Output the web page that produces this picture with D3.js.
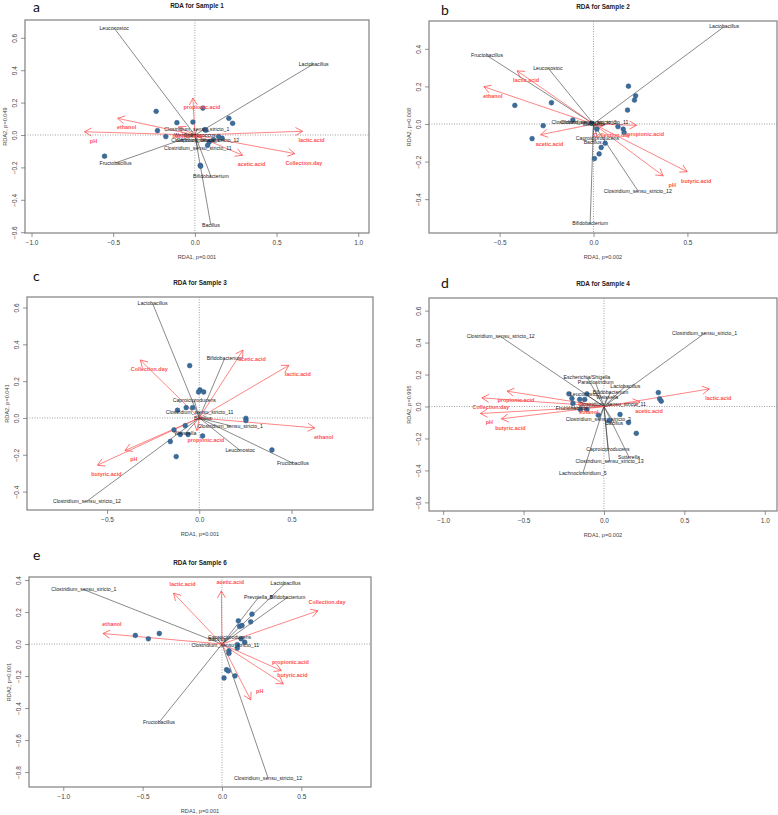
<html>
<head>
  <script src="https://d3js.org/d3.v7.min.js"></script>
  <style>
    body { margin: 0; background: #fff; }
    svg { font-family: "Liberation Sans", Arial, sans-serif; }
  </style>
</head>
<body>
<div id="fig"></div>
<script>
  // ---- data (RDA1, RDA2 scores) ----
  var titles = ["RDA for Sample 1", "RDA for Sample 2", "RDA for Sample 3", "RDA for Sample 4", "RDA for Sample 6"];
  var letters = ["a", "b", "c", "d", "e"];
  var xTitles = ["RDA1, p=0.001", "RDA1, p=0.002", "RDA1, p=0.001", "RDA1, p=0.002", "RDA1, p=0.001"];
  var yTitles = ["RDA2, p=0.049", "RDA2, p=0.068", "RDA2, p=0.041", "RDA2, p=0.995", "RDA2, p=0.001"];

  var xTicks = [[-1, -0.5, 0, 0.5, 1], [-0.5, 0, 0.5], [-0.5, 0, 0.5], [-1, -0.5, 0, 0.5, 1], [-1, -0.5, 0, 0.5]];
  var yTicks = [[-0.6, -0.4, -0.2, 0, 0.2, 0.4, 0.6], [-0.4, -0.2, 0, 0.2, 0.4], [-0.4, -0.2, 0, 0.2, 0.4, 0.6],
                [-0.6, -0.4, -0.2, 0, 0.2, 0.4, 0.6], [-0.8, -0.6, -0.4, -0.2, 0, 0.2, 0.4]];

  // sample scores
  var sites1 = [[-0.237, 0.146], [0.049, 0.166], [-0.012, 0.08], [-0.11, 0.076], [0.208, 0.103], [0.231, 0.072],
                [-0.229, 0.027], [-0.178, -0.01], [0.061, 0.033], [0.068, 0.03], [0.145, -0.01], [0.167, -0.02],
                [0.114, -0.029], [0.078, -0.064], [0.088, -0.043], [0.033, -0.187], [0.035, -0.193], [-0.553, -0.131]];
  var sites2 = [[0.186, 0.201], [0.224, 0.15], [0.218, 0.127], [0.181, 0.074], [-0.224, 0.113], [-0.419, 0.099],
                [-0.11, 0.021], [-0.268, -0.009], [-0.327, -0.078], [0.018, -0.027], [0.158, -0.027], [0.13, -0.014],
                [0.163, -0.046], [0.062, -0.102], [0.041, -0.125], [0.03, -0.159], [0.005, -0.184], [-0.01, 0.004]];
  var sites3 = [[-0.052, 0.284], [0.004, 0.152], [-0.004, 0.141], [0.024, 0.141], [-0.071, 0.056], [-0.036, 0.056],
                [-0.118, 0.042], [0.253, -0.002], [0.253, -0.014], [0.394, -0.174], [-0.076, -0.042], [-0.137, -0.065],
                [-0.103, -0.09], [-0.061, -0.09], [0.018, -0.098], [-0.157, -0.128], [-0.125, -0.21]];
  var sites4 = [[0.338, 0.087], [0.346, 0.048], [0.356, 0.033], [0.201, -0.168], [0.153, -0.1], [0.1, -0.05],
                [0.035, -0.087], [-0.035, -0.054], [-0.106, 0.079], [-0.218, 0.079], [-0.199, 0.05], [-0.151, 0.044],
                [-0.12, 0.044], [-0.193, 0.019], [-0.147, -0.019], [-0.106, -0.019]];
  var sites6 = [[-0.546, 0.054], [-0.464, 0.033], [-0.395, 0.066], [0.189, 0.187], [0.181, 0.139], [0.103, 0.145],
                [0.111, 0.11], [0.126, 0.116], [0.12, 0.033], [0.143, 0.012], [0.097, -0.004], [0.097, -0.025],
                [0.044, -0.042], [0.044, -0.058], [0.029, -0.16], [0.04, -0.168], [0.082, -0.199], [0.013, -0.212]];

  // genus scores (black lines)
  var species1 = [["Leuconostoc", -0.494, 0.66], ["Lactobacillus", 0.727, 0.439], ["Fructobacillus", -0.486, -0.172],
                  ["Bifidobacterium", 0.098, -0.254], ["Bacillus", 0.098, -0.558],
                  ["Clostridium_sensu_stricto_1", 0.012, 0.033], ["Clostridium_sensu_stricto_12", 0.063, -0.035],
                  ["Clostridium_sensu_stricto_11", 0.018, -0.082], ["Caproiciproducens", 0.02, -0.03],
                  ["Weissella", -0.06, 0.0], ["Enterococcus", 0.03, 0.0]];
  var species2 = [["Lactobacillus", 0.696, 0.518], ["Fructobacillus", -0.567, 0.364], ["Leuconostoc", -0.243, 0.299],
                  ["Clostridium_sensu_stricto_12", 0.236, -0.355], ["Bifidobacterium", -0.018, -0.53],
                  ["Caproiciproducens", 0.021, -0.076], ["Bacillus", -0.005, -0.099],
                  ["Clostridium_sensu_stricto_1", -0.05, 0.007], ["Clostridium_sensu_stricto_11", 0.005, 0.007],
                  ["Weissella", 0.0, 0.0]];
  var species3 = [["Lactobacillus", -0.253, 0.622], ["Bifidobacterium", 0.137, 0.322], ["Caproiciproducens", -0.027, 0.094],
                  ["Clostridium_sensu_stricto_11", 0.002, 0.033], ["Clostridium_sensu_stricto_1", 0.168, -0.042],
                  ["Leuconostoc", 0.222, -0.177], ["Fructobacillus", 0.508, -0.246],
                  ["Clostridium_sensu_stricto_12", -0.609, -0.452], ["Weissella", -0.076, -0.085], ["Bacillus", 0.02, 0.0]];
  var species4 = [["Clostridium_sensu_stricto_12", -0.642, 0.437], ["Clostridium_sensu_stricto_1", 0.626, 0.458],
                  ["Escherichia/Shigella", -0.106, 0.183], ["Paraclostridium", -0.052, 0.15], ["Lactobacillus", 0.133, 0.127],
                  ["Bifidobacterium", 0.041, 0.092], ["Leuconostoc", -0.12, 0.079], ["Clostridium_sensu_stricto_3", -0.035, -0.081],
                  ["Bacillus", 0.064, -0.102], ["Caproiciproducens", 0.025, -0.266], ["Sutterella", 0.155, -0.316],
                  ["Clostridium_sensu_stricto_13", 0.035, -0.343], ["Lachnoclostridium_5", -0.131, -0.416],
                  ["Fructobacillus", -0.2, -0.01], ["Weissella", 0.02, 0.06], ["Clostridium_sensu_stricto_11", 0.05, 0.015]];
  var species6 = [["Clostridium_sensu_stricto_1", -0.87, 0.34], ["Lactobacillus", 0.401, 0.382], ["Prevotella_9", 0.23, 0.291],
                  ["Bifidobacterium", 0.412, 0.291], ["Fructobacillus", -0.397, -0.49], ["Clostridium_sensu_stricto_12", 0.29, -0.835],
                  ["Caproiciproducens", 0.048, 0.042], ["Clostridium_sensu_stricto_11", 0.021, -0.004], ["Bacillus", -0.03, 0.03]];

  // environmental vectors (red arrows)
  var env1 = [["propionic.acid", -0.012, 0.228], ["ethanol", -0.473, 0.103], ["pH", -0.676, 0.02], ["lactic.acid", 0.659, 0.023],
              ["Collection.day", 0.612, -0.115], ["acetic.acid", 0.292, -0.125], ["butyric.acid", -0.1, 0.05]];
  var env2 = [["lactic.acid", -0.407, 0.283], ["ethanol", -0.584, 0.198], ["acetic.acid", -0.282, -0.057],
              ["propionic.acid", 0.229, -0.007], ["pH", 0.371, -0.276], ["butyric.acid", 0.499, -0.254], ["Collection.day", 0.05, -0.01]];
  var env3 = [["Collection.day", -0.32, 0.315], ["acetic.acid", 0.237, 0.369], ["lactic.acid", 0.486, 0.286], ["ethanol", 0.626, -0.054],
              ["propionic.acid", -0.013, -0.069], ["pH", -0.403, -0.177], ["butyric.acid", -0.552, -0.257]];
  var env4 = [["lactic.acid", 0.655, 0.11], ["acetic.acid", 0.224, 0.029], ["propionic.acid", -0.603, 0.096],
              ["Collection.day", -0.759, 0.054], ["pH", -0.769, -0.044], ["butyric.acid", -0.638, -0.077], ["ethanol", -0.15, 0.02]];
  var env6 = [["lactic.acid", -0.305, 0.318], ["acetic.acid", -0.004, 0.332], ["Collection.day", 0.605, 0.208], ["ethanol", -0.75, 0.066],
              ["propionic.acid", 0.374, -0.166], ["butyric.acid", 0.387, -0.249], ["pH", 0.181, -0.349]];

  var sites = [sites1, sites2, sites3, sites4, sites6];
  var species = [species1, species2, species3, species4, species6];
  var envs = [env1, env2, env3, env4, env6];

  // ---- layout of each panel (pixel box + axis ranges) ----
  var layout = [
    {left: 25, right: 369, top: 20, bottom: 233, xd: [-1.04, 1.066], yd: [-0.605, 0.71], lx: 33, ly: 12, ldy: 9},
    {left: 429, right: 777, top: 21, bottom: 233, xd: [-0.876, 0.977], yd: [-0.58, 0.548], lx: 441, ly: 15, ldy: 9},
    {left: 27, right: 373, top: 297, bottom: 510, xd: [-0.934, 0.942], yd: [-0.5, 0.657], lx: 33, ly: 281, ldy: 9},
    {left: 429, right: 777, top: 298, bottom: 511, xd: [-1.088, 1.076], yd: [-0.654, 0.679], lx: 441, ly: 288, ldy: 9},
    {left: 29, right: 371, top: 577, bottom: 787, xd: [-1.216, 0.939], yd: [-0.893, 0.419], lx: 33, ly: 560, ldy: -9}
  ];

  var svg = d3.select("#fig").append("svg").attr("width", 778).attr("height", 815);

  var red = "#ff5050";

  function arrowHead(g, x0, y0, x1, y1, len, color) {
    var a = Math.atan2(y1 - y0, x1 - x0), s = Math.PI / 6;
    var p = [[x1 - len * Math.cos(a - s), y1 - len * Math.sin(a - s)], [x1, y1],
             [x1 - len * Math.cos(a + s), y1 - len * Math.sin(a + s)]];
    g.append("path").attr("d", d3.line()(p)).attr("fill", "none")
      .attr("stroke", color).attr("stroke-width", 0.8);
  }

  layout.forEach(function(L, i) {
    var x = d3.scaleLinear().domain(L.xd).range([L.left, L.right]);
    var y = d3.scaleLinear().domain(L.yd).range([L.bottom, L.top]);
    var g = svg.append("g");

    // zero lines
    g.append("line").attr("x1", x(0)).attr("x2", x(0)).attr("y1", L.top).attr("y2", L.bottom)
      .attr("stroke", "#888").attr("stroke-width", 0.8).attr("stroke-dasharray", "1,1.5");
    g.append("line").attr("x1", L.left).attr("x2", L.right).attr("y1", y(0)).attr("y2", y(0))
      .attr("stroke", "#888").attr("stroke-width", 0.8).attr("stroke-dasharray", "1,1.5");

    // genus lines
    species[i].forEach(function(d) {
      g.append("line").attr("x1", x(0)).attr("y1", y(0)).attr("x2", x(d[1])).attr("y2", y(d[2]))
        .attr("stroke", "#3a3a3a").attr("stroke-width", 0.6);
    });

    // environmental arrows
    envs[i].forEach(function(d) {
      g.append("line").attr("x1", x(0)).attr("y1", y(0)).attr("x2", x(d[1])).attr("y2", y(d[2]))
        .attr("stroke", red).attr("stroke-width", 0.7);
      arrowHead(g, x(0), y(0), x(d[1]), y(d[2]), 8, red);
    });

    // sample points
    g.selectAll("circle.site").data(sites[i]).enter().append("circle")
      .attr("cx", function(d) { return x(d[0]); })
      .attr("cy", function(d) { return y(d[1]); })
      .attr("r", 2.4).attr("fill", "#3b6d9c").attr("stroke", "#2c557c").attr("stroke-width", 0.5);

    // genus labels
    g.selectAll("text.sp").data(species[i]).enter().append("text")
      .attr("x", function(d) { return x(d[1]); })
      .attr("y", function(d) { return y(d[2]); })
      .attr("dy", "0.35em").attr("text-anchor", "middle")
      .style("font-size", "5.2px").attr("fill", "#222")
      .text(function(d) { return d[0]; });

    // env labels
    g.selectAll("text.env").data(envs[i]).enter().append("text")
      .attr("x", function(d) { return x(d[1]) + 9; })
      .attr("y", function(d) { return y(d[2]) + L.ldy; })
      .attr("dy", "0.35em").attr("text-anchor", "middle")
      .style("font-size", "5.4px").style("font-weight", "bold").attr("fill", red)
      .text(function(d) { return d[0]; });

    // box
    g.append("rect").attr("x", L.left).attr("y", L.top)
      .attr("width", L.right - L.left).attr("height", L.bottom - L.top)
      .attr("fill", "none").attr("stroke", "#8a8a8a").attr("stroke-width", 1.3);

    // axes
    var fmt = function(d) { return d.toFixed(1).replace("-", "\u2212"); };
    var ax = g.append("g").attr("transform", "translate(0," + L.bottom + ")")
      .call(d3.axisBottom(x).tickValues(xTicks[i]).tickSize(4).tickPadding(3).tickFormat(fmt));
    var ay = g.append("g").attr("transform", "translate(" + L.left + ",0)")
      .call(d3.axisLeft(y).tickValues(yTicks[i]).tickSize(4).tickFormat(fmt));
    [ax, ay].forEach(function(a) {
      a.select(".domain").remove();
      a.selectAll("line").attr("stroke", "#666").attr("stroke-width", 0.7);
      a.selectAll("text").attr("fill", "#444").style("font-size", "6.5px").style("font-family", "Liberation Sans, Arial, sans-serif");
    });
    ay.selectAll("text").attr("x", 0).attr("y", -8).attr("dy", 0)
      .attr("transform", "rotate(-90)").style("text-anchor", "middle");

    // titles
    g.append("text").attr("x", (L.left + L.right) / 2).attr("y", L.top - 12)
      .attr("text-anchor", "middle").style("font-size", "6.4px").style("font-weight", "bold")
      .attr("fill", "#222").text(titles[i]);
    g.append("text").attr("x", (L.left + L.right) / 2).attr("y", L.bottom + 26)
      .attr("text-anchor", "middle").style("font-size", "5.6px").attr("fill", "#444").text(xTitles[i]);
    g.append("text").attr("transform", "translate(" + (L.left - 18) + "," + ((L.top + L.bottom) / 2) + ") rotate(-90)")
      .attr("text-anchor", "middle").style("font-size", "5.6px").attr("fill", "#444").text(yTitles[i]);
    g.append("text").attr("x", L.lx).attr("y", L.ly)
      .style("font-family", "Lato, 'Open Sans', sans-serif").style("font-size", "14px")
      .attr("fill", "#111").text(letters[i]);
  });
</script>
</body>
</html>
